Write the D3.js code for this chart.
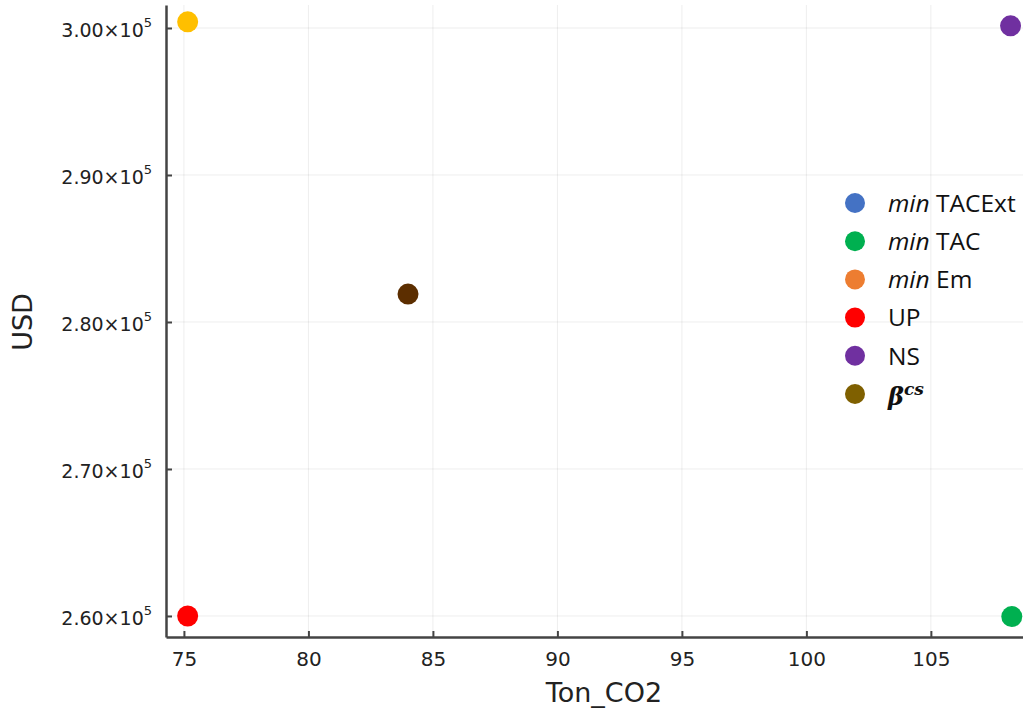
<!DOCTYPE html>
<html>
<head>
<meta charset="utf-8">
<script src="https://cdn.jsdelivr.net/npm/d3@7"></script>
<style>
  body { margin: 0; background: #fff; }
  svg { display: block; }
</style>
</head>
<body>
<div class="chart"></div>
<script>
// data
const names = ['A', 'UP', 'NS', 'TAC', 'beta'];
const tonCO2 = [75.15, 75.15, 108.2, 108.25, 84.0];
const usd = [300420, 260000, 300150, 259960, 281900];
const pointColors = ['#ffbf00', '#ff0000', '#7030a0', '#00b050', '#5c2e00'];

const legendLabels = ['min|TACExt', 'min|TAC', 'min|Em', 'UP', 'NS', 'beta'];
const legendColors = ['#4472c4', '#00b050', '#ed7d31', '#ff0000', '#7030a0', '#7f6000'];

const xTicks = [75, 80, 85, 90, 95, 100, 105];
const yTicks = [260000, 270000, 280000, 290000, 300000];

const w = 1023, h = 712;
const padL = 166, padR = 1023, padT = 5, padB = 637;

const xScale = d3.scaleLinear().domain([74.28, 108.7]).range([padL, padR]);
const yScale = d3.scaleLinear().domain([258570, 301565]).range([padB, padT]);

const svg = d3.select('div.chart').append('svg')
  .attr('width', w).attr('height', h);

// grid
svg.append('g').selectAll('line').data(xTicks).enter().append('line')
  .attr('x1', d => xScale(d)).attr('x2', d => xScale(d))
  .attr('y1', padT).attr('y2', padB)
  .attr('stroke', '#000').attr('stroke-opacity', 0.07);
svg.append('g').selectAll('line').data(yTicks).enter().append('line')
  .attr('y1', d => yScale(d)).attr('y2', d => yScale(d))
  .attr('x1', padL).attr('x2', padR)
  .attr('stroke', '#000').attr('stroke-opacity', 0.07);

// axes
const xAxis = d3.axisBottom(xScale).tickValues(xTicks).tickSizeOuter(0)
  .tickSizeInner(-6).tickPadding(15);
const gx = svg.append('g').attr('transform', 'translate(0,' + padB + ')').call(xAxis);
gx.select('.domain').attr('stroke', '#444').attr('stroke-width', 2.5);
gx.selectAll('.tick line').attr('stroke', '#444').attr('stroke-width', 2);
gx.selectAll('.tick text').attr('font-family', 'DejaVu Sans').attr('font-size', 20).attr('fill', '#222');

const yAxis = d3.axisLeft(yScale).tickValues(yTicks).tickSizeOuter(0)
  .tickSizeInner(-6).tickPadding(14).tickFormat(() => '');
const gy = svg.append('g').attr('transform', 'translate(' + padL + ',0)').call(yAxis);
gy.select('.domain').attr('stroke', '#444').attr('stroke-width', 2.5);
gy.selectAll('.tick line').attr('stroke', '#444').attr('stroke-width', 2);
gy.selectAll('.tick text').each(function(d) {
  const t = d3.select(this)
    .attr('font-family', 'DejaVu Sans').attr('font-size', 19).attr('fill', '#222')
    .attr('x', -14).attr('dy', '0.45em');
  t.append('tspan').text((d / 1e5).toFixed(2) + '×10');
  t.append('tspan').attr('font-size', 13).attr('dy', '-0.8em').text('5');
});

// axis labels
svg.append('text').text('Ton_CO2')
  .attr('x', 604).attr('y', 702).attr('text-anchor', 'middle')
  .attr('font-family', 'DejaVu Sans').attr('font-size', 27).attr('fill', '#222');
svg.append('text').text('USD')
  .attr('transform', 'translate(32,322) rotate(-90)').attr('text-anchor', 'middle')
  .attr('font-family', 'DejaVu Sans').attr('font-size', 27).attr('fill', '#222');

// points
svg.append('g').selectAll('circle').data(names).enter().append('circle')
  .attr('cx', (d, i) => xScale(tonCO2[i]))
  .attr('cy', (d, i) => yScale(usd[i]))
  .attr('r', 10.5)
  .attr('fill', (d, i) => pointColors[i]);

// legend
const leg = svg.append('g').selectAll('g').data(legendLabels).enter().append('g')
  .attr('transform', (d, i) => 'translate(855,' + (203 + i * 38.2) + ')');
leg.append('circle').attr('r', 10).attr('fill', (d, i) => legendColors[i]);
leg.each(function(d) {
  const t = d3.select(this).append('text')
    .attr('x', 33).attr('dy', '0.36em')
    .attr('font-family', 'Open Sans').attr('font-size', 24.5).attr('fill', '#111');
  if (d.indexOf('|') >= 0) {
    const p = d.split('|');
    t.append('tspan').attr('font-style', 'italic').text(p[0]);
    t.append('tspan').text(' ' + p[1]);
  } else if (d === 'beta') {
    t.attr('font-family', 'DejaVu Serif').attr('font-weight', 'bold').attr('font-style', 'italic')
      .attr('font-size', 24).attr('dy', '0.45em');
    t.append('tspan').text('β');
    t.append('tspan').attr('font-size', 17).attr('dy', '-0.6em').text('cs');
  } else {
    t.text(d);
  }
});
</script>
</body>
</html>
